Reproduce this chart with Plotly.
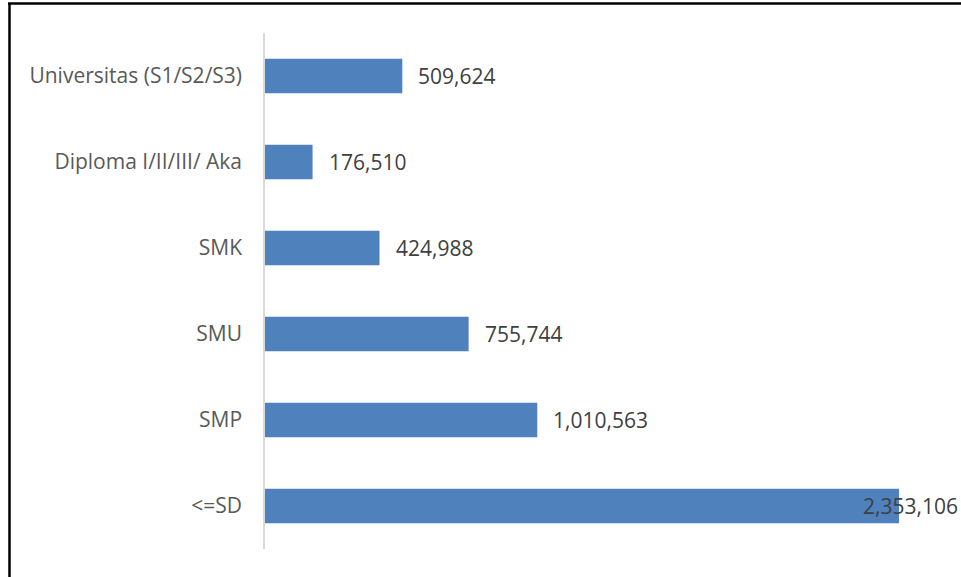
import plotly.graph_objects as go

categories = ["<=SD", "SMP", "SMU", "SMK", "Diploma I/II/III/ Aka", "Universitas (S1/S2/S3)"]
values = [2353106, 1010563, 755744, 424988, 176510, 509624]
value_labels = [f"{v:,}" for v in values]

W, H = 961, 577
ML, MR, MT, MB = 265, 22, 33, 28
PW = W - ML - MR
PH = H - MT - MB
x_max = PW / 634 * max(values)

fig = go.Figure()
fig.add_trace(go.Bar(
    y=categories, x=values, orientation="h",
    marker=dict(color="#4F81BD", line=dict(width=0)),
    hoverinfo="skip",
))

for i, (c, v, t) in enumerate(zip(categories, values, value_labels)):
    if v == max(values):
        fig.add_annotation(x=v, y=c, text=t, showarrow=False, xanchor="right",
                           xshift=61, font=dict(family="Open Sans", size=21, color="#404040"))
    else:
        fig.add_annotation(x=v, y=c, text=t, showarrow=False, xanchor="left",
                           xshift=14, font=dict(family="Open Sans", size=21, color="#404040"))

def px_x(p):
    return (p - ML) / PW

def px_y(p):
    return (H - MB - p) / PH

fig.add_shape(type="line", xref="paper", yref="paper",
              x0=px_x(9.5), x1=px_x(9.5), y0=px_y(3), y1=px_y(H + 5),
              line=dict(color="black", width=2.5))
fig.add_shape(type="line", xref="paper", yref="paper",
              x0=px_x(8), x1=px_x(W + 5), y0=px_y(3.5), y1=px_y(3.5),
              line=dict(color="black", width=2.5))

fig.update_layout(
    width=W, height=H,
    margin=dict(l=ML, r=MR, t=MT, b=MB),
    paper_bgcolor="white", plot_bgcolor="white",
    bargap=0.6, showlegend=False,
    font=dict(family="Open Sans", size=21, color="#595959"),
    xaxis=dict(range=[0, x_max], visible=False, showgrid=False, zeroline=False),
    yaxis=dict(showline=True, linecolor="#D9D9D9", linewidth=1.5, showgrid=False,
               ticks="", ticklabelstandoff=17,
               tickfont=dict(family="Open Sans", size=21, color="#595959")),
)

fig.write_html("out.html")
